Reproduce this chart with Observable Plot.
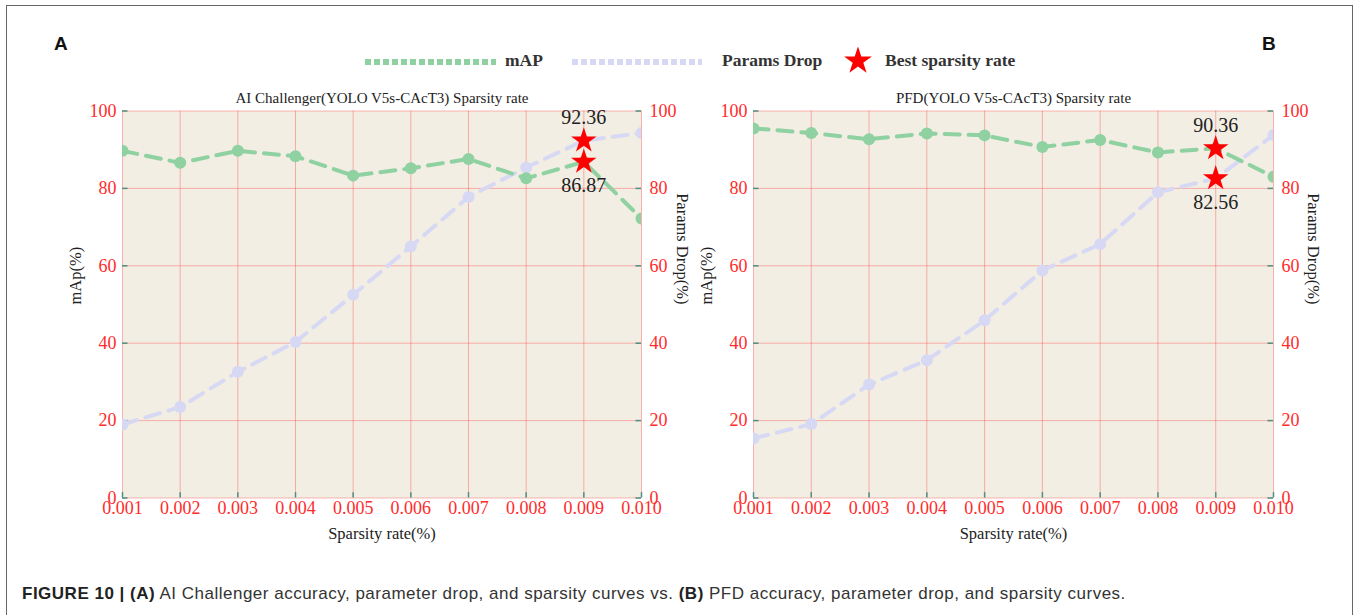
<!DOCTYPE html>
<html>
<head>
<meta charset="utf-8">
<script src="https://cdn.jsdelivr.net/npm/d3@7"></script>
<script src="https://cdn.jsdelivr.net/npm/@observablehq/plot@0.6"></script>
<style>
  body { margin: 0; background: #fff; }
  #fig { position: relative; width: 1358px; height: 615px; overflow: hidden; background: #fff; }
  #frame { position: absolute; left: 6px; top: 5px; width: 1345px; height: 700px; border: 1.5px solid #666; border-bottom: none; }
  .panel { position: absolute; top: 85px; }
  .tag { position: absolute; top: 33px; font: bold 19px "Liberation Sans", Arial, sans-serif; color: #111; }
  #legend { position: absolute; left: 0; top: 47px; width: 1358px; height: 32px; }
  #legend span { position: absolute; top: 3px; font: bold 17.5px "Liberation Serif", "Times New Roman", serif; color: #333; white-space: nowrap; }
  #caption { position: absolute; left: 22px; top: 584px; font: 17px "Liberation Sans", Arial, sans-serif; letter-spacing: 0.5px; color: #333; white-space: nowrap; }
  #caption b { color: #222; }
</style>
</head>
<body>
<div id="fig">
  <div id="frame"></div>
  <div class="tag" style="left:54px">A</div>
  <div class="tag" style="left:1262px">B</div>
  <div id="legend"></div>
  <div id="caption"><b>FIGURE 10 | (A)</b> AI Challenger accuracy, parameter drop, and sparsity curves vs. <b>(B)</b> PFD accuracy, parameter drop, and sparsity curves.</div>
</div>
<script>
// ---------- data ----------
const sparsity = [0.001, 0.002, 0.003, 0.004, 0.005, 0.006, 0.007, 0.008, 0.009, 0.010];
const yTicks = [0, 20, 40, 60, 80, 100];

const aiMap    = [89.7, 86.6, 89.7, 88.3, 83.3, 85.2, 87.6, 82.6, 86.87, 72.2];
const aiParams = [19.0, 23.5, 32.6, 40.3, 52.5, 65.0, 77.8, 85.4, 92.36, 94.3];
const pfdMap    = [95.5, 94.3, 92.7, 94.2, 93.7, 90.7, 92.5, 89.3, 90.36, 83.0];
const pfdParams = [15.4, 19.1, 29.3, 35.6, 45.9, 58.8, 65.6, 79.0, 82.56, 93.8];

const aiBest  = {x: 0.009, params: 92.36, map: 86.87};
const pfdBest = {x: 0.009, params: 82.56, map: 90.36};

const aiTitle  = "AI Challenger(YOLO V5s-CAcT3) Sparsity rate";
const pfdTitle = "PFD(YOLO V5s-CAcT3) Sparsity rate";
const xTitle = "Sparsity rate(%)";
const yLeftTitle = "mAp(%)";
const yRightTitle = "Params Drop(%)";
const legendLabels = ["mAP", "Params Drop", "Best sparsity rate"];

// ---------- styles ----------
const GREEN = "#8fd1a1";
const LAV = "#d7d9f4";
const RED = "#ff2b2b";
const TEAL = "#4e8f80";
const BG = "#f2eee4";
const SERIF = "'Liberation Serif', 'Times New Roman', serif";

function panel({title, mapVals, parVals, best, width, mL, mR, rightDx}) {
  const mapData = sparsity.map((x, i) => ({x, y: mapVals[i]}));
  const parData = sparsity.map((x, i) => ({x, y: parVals[i]}));
  const x0 = sparsity[0], x1 = sparsity[sparsity.length - 1];
  const tickW = (x1 - x0) / 95;   // short inward tick length in data units
  const tickH = 100 / 72;
  const above = best.params >= best.map ? best.params : best.map;
  const below = best.params >= best.map ? best.map : best.params;
  return Plot.plot({
    width, height: 465,
    marginLeft: mL, marginRight: mR, marginTop: 25.5, marginBottom: 52.5,
    style: {fontFamily: SERIF, fontSize: "18px", background: "transparent", overflow: "visible"},
    x: {domain: [x0, x1]},
    y: {domain: [0, 100]},
    marks: [
      Plot.frame({fill: BG, stroke: null}),
      Plot.gridX(sparsity, {stroke: "#ff3030", strokeOpacity: 0.35, strokeWidth: 1}),
      Plot.gridY(yTicks, {stroke: "#ff3030", strokeOpacity: 0.35, strokeWidth: 1}),
      Plot.axisX(sparsity, {tickSize: 0, tickPadding: 3, tickFormat: d3.format(".3f"), color: RED, label: null, fontSize: 18}),
      Plot.axisY(yTicks, {anchor: "left", tickSize: 0, tickPadding: 6, color: RED, label: null, fontSize: 18}),
      Plot.axisY(yTicks, {anchor: "right", tickSize: 0, tickPadding: 8, color: RED, label: null, fontSize: 18}),
      Plot.ruleY(yTicks, {y: d => d, x1: x0, x2: x0 + tickW, stroke: TEAL, strokeWidth: 1.5}),
      Plot.ruleY(yTicks, {y: d => d, x1: x1 - tickW, x2: x1, stroke: TEAL, strokeWidth: 1.5}),
      Plot.ruleX(sparsity, {x: d => d, y1: 0, y2: tickH, stroke: TEAL, strokeWidth: 1.5}),
      Plot.line(parData, {x: "x", y: "y", stroke: LAV, strokeWidth: 4, strokeDasharray: "15,9", clip: true}),
      Plot.dot(parData, {x: "x", y: "y", r: 6, fill: LAV, stroke: null, clip: true}),
      Plot.line(mapData, {x: "x", y: "y", stroke: GREEN, strokeWidth: 4, strokeDasharray: "15,9", clip: true}),
      Plot.dot(mapData, {x: "x", y: "y", r: 6, fill: GREEN, stroke: null, clip: true}),
      Plot.dot([best.params, best.map], {x: () => best.x, y: d => d, symbol: "star", r: 8, fill: "#ff0000", stroke: null}),
      Plot.text([above], {x: () => best.x, y: d => d, text: d => d.toFixed(2), dy: -23, fontSize: 20, fill: "#222"}),
      Plot.text([below], {x: () => best.x, y: d => d, text: d => d.toFixed(2), dy: 24, fontSize: 20, fill: "#222"}),
      Plot.text([title], {frameAnchor: "top", dy: -13, text: d => d, fontSize: 15, fill: "#222", lineAnchor: "middle"}),
      Plot.text([xTitle], {frameAnchor: "bottom", dy: 36, text: d => d, fontSize: 16.5, fill: "#222", lineAnchor: "middle"}),
      Plot.text([yLeftTitle], {frameAnchor: "left", dx: -47, rotate: -90, text: d => d, fontSize: 16.5, fill: "#222"}),
      Plot.text([yRightTitle], {frameAnchor: "right", dx: rightDx, rotate: 90, text: d => d, fontSize: 16.5, fill: "#222"})
    ]
  });
}

const fig = document.getElementById("fig");
const left = panel({title: aiTitle, mapVals: aiMap, parVals: aiParams, best: aiBest, width: 700, mL: 122, mR: 59, rightDx: 41});
left.classList.add("panel"); left.style.left = "0px";
fig.appendChild(left);
const right = panel({title: pfdTitle, mapVals: pfdMap, parVals: pfdParams, best: pfdBest, width: 698, mL: 93, mR: 85, rightDx: 40});
right.classList.add("panel"); right.style.left = "660px";
fig.appendChild(right);

// ---------- legend ----------
const legend = document.getElementById("legend");
const ns = "http://www.w3.org/2000/svg";
const lsvg = document.createElementNS(ns, "svg");
lsvg.setAttribute("width", 1358); lsvg.setAttribute("height", 32);
lsvg.style.position = "absolute"; lsvg.style.left = "0"; lsvg.style.top = "0";
function seg(xa, xb, color) {
  const l = document.createElementNS(ns, "line");
  l.setAttribute("x1", xa); l.setAttribute("x2", xb); l.setAttribute("y1", 15); l.setAttribute("y2", 15);
  l.setAttribute("stroke", color); l.setAttribute("stroke-width", 6); l.setAttribute("stroke-dasharray", "6,3");
  lsvg.appendChild(l);
}
seg(365, 496, GREEN);
seg(572, 702, LAV);
const star = document.createElementNS(ns, "path");
star.setAttribute("d", d3.symbol(d3.symbolStar, 240)());
star.setAttribute("transform", "translate(858,14)");
star.setAttribute("fill", "#ff0000");
lsvg.appendChild(star);
legend.appendChild(lsvg);
[[legendLabels[0], 505], [legendLabels[1], 722], [legendLabels[2], 885]].forEach(([t, x]) => {
  const s = document.createElement("span");
  s.textContent = t; s.style.left = x + "px";
  legend.appendChild(s);
});
</script>
</body>
</html>
